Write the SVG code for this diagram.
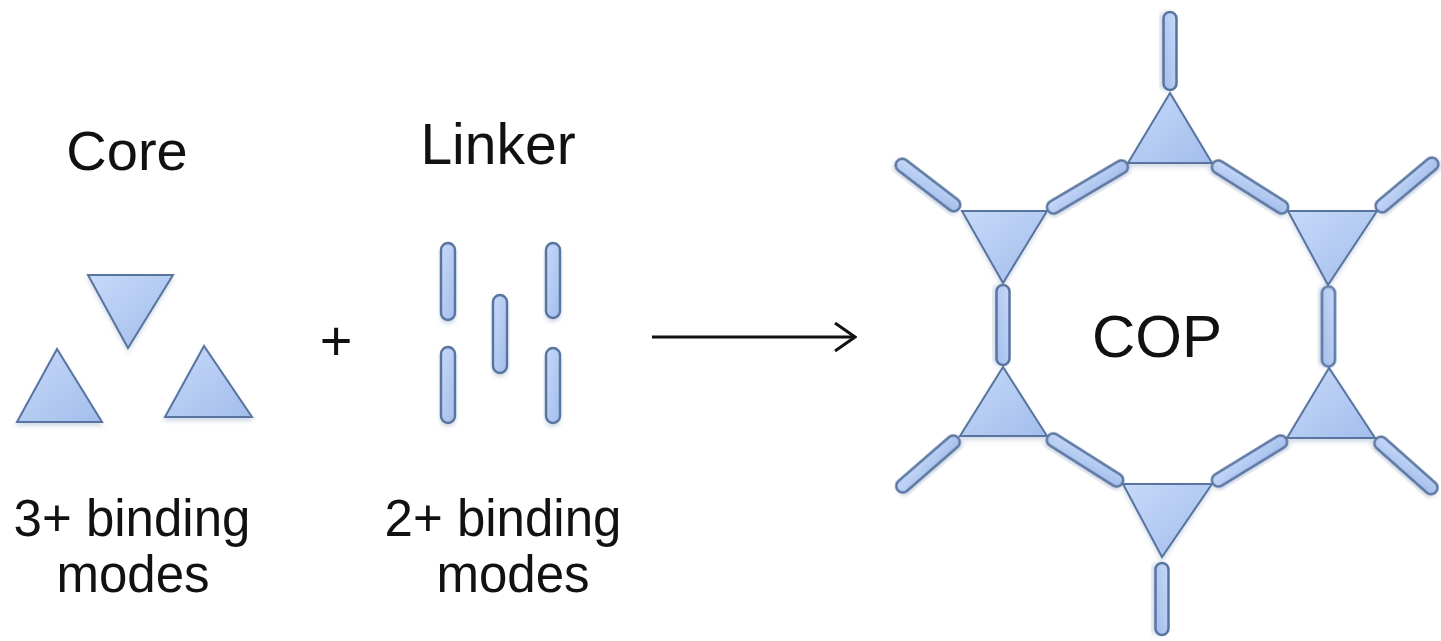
<svg xmlns="http://www.w3.org/2000/svg" width="1441" height="641" viewBox="0 0 1441 641">
<defs>
<linearGradient id="fillG" x1="0" y1="0" x2="1" y2="1">
<stop offset="0" stop-color="#c6d9f8"/>
<stop offset="1" stop-color="#a3bdec"/>
</linearGradient>
<filter id="sh" x="-20%" y="-20%" width="140%" height="150%">
<feDropShadow dx="0" dy="3" stdDeviation="2" flood-color="#7f95b8" flood-opacity="0.35"/>
</filter>
<marker id="arr" markerWidth="24" markerHeight="30" refX="22" refY="15" orient="auto" markerUnits="userSpaceOnUse">
<polyline points="2,1 22,15 2,29" fill="none" stroke="#111" stroke-width="3"/>
</marker>
</defs>
<style>
.tri{fill:url(#fillG);stroke:#58749f;stroke-width:2;stroke-linejoin:miter;filter:url(#sh)}
.lnk{fill:url(#fillG);stroke:#58749f;stroke-width:2.4;filter:url(#sh)}
.t{font-family:"Liberation Sans",Arial,Helvetica,sans-serif;fill:#111;text-anchor:middle}
</style>
<rect width="1441" height="641" fill="#ffffff"/>

<g id="core">
<text class="t" x="127" y="170" font-size="56">Core</text>
<polygon class="tri" points="88,275 173,275 128,348"/>
<polygon class="tri" points="57,349 17,422 102,422"/>
<polygon class="tri" points="204,346 165,417 252,417"/>
<text class="t" x="132" y="536" font-size="51">3+ binding</text>
<text class="t" x="133" y="592" font-size="51">modes</text>
</g>

<g id="plus">
<text class="t" x="336" y="360" font-size="56">+</text>
</g>

<g id="linker">
<text class="t" x="498" y="164" font-size="57">Linker</text>
<rect class="lnk" x="441" y="243" width="14" height="77" rx="7"/>
<rect class="lnk" x="441" y="347" width="14" height="76" rx="7"/>
<rect class="lnk" x="493" y="295" width="14" height="78" rx="7"/>
<rect class="lnk" x="546" y="243" width="14" height="75" rx="7"/>
<rect class="lnk" x="546" y="348" width="14" height="75" rx="7"/>
<text class="t" x="503" y="536" font-size="51">2+ binding</text>
<text class="t" x="513" y="592" font-size="51">modes</text>
</g>

<g id="connectors">
<line x1="652" y1="337" x2="855" y2="337" stroke="#111" stroke-width="3" marker-end="url(#arr)"/>
</g>

<g id="cop">
<g id="cop-linkers">
<rect class="lnk" x="-39" y="-6.5" width="78" height="13" rx="6.5" transform="translate(1170,51) rotate(90)"/>
<rect class="lnk" x="-46" y="-6.5" width="92" height="13" rx="6.5" transform="translate(1087.5,187) rotate(-30.6)"/>
<rect class="lnk" x="-44" y="-6.5" width="88" height="13" rx="6.5" transform="translate(1250,187) rotate(32.3)"/>
<rect class="lnk" x="-40" y="-6.5" width="80" height="13" rx="6.5" transform="translate(1003,325) rotate(90)"/>
<rect class="lnk" x="-40" y="-6.5" width="80" height="13" rx="6.5" transform="translate(1328.5,326.5) rotate(90)"/>
<rect class="lnk" x="-44" y="-6.5" width="88" height="13" rx="6.5" transform="translate(1085,460) rotate(32.3)"/>
<rect class="lnk" x="-43" y="-6.5" width="86" height="13" rx="6.5" transform="translate(1249.5,461) rotate(-31.5)"/>
<rect class="lnk" x="-39" y="-6.5" width="78" height="13" rx="6.5" transform="translate(928,185) rotate(37.5)"/>
<rect class="lnk" x="-39" y="-6.5" width="78" height="13" rx="6.5" transform="translate(1407,185) rotate(-40)"/>
<rect class="lnk" x="-40" y="-6.5" width="80" height="13" rx="6.5" transform="translate(928,464) rotate(-41)"/>
<rect class="lnk" x="-40" y="-6.5" width="80" height="13" rx="6.5" transform="translate(1406,465.5) rotate(41.6)"/>
<rect class="lnk" x="-36" y="-6.5" width="72" height="13" rx="6.5" transform="translate(1162,599) rotate(90)"/>
</g>
<g id="cop-cores">
<polygon class="tri" points="1170,93 1128,163 1212,163"/>
<polygon class="tri" points="962,211 1047,211 1003,283"/>
<polygon class="tri" points="1288,211 1377,211 1328,285"/>
<polygon class="tri" points="1003,367 960,436 1047,436"/>
<polygon class="tri" points="1329,368 1287,438 1375,438"/>
<polygon class="tri" points="1123,484 1212,484 1162,557"/>
</g>
<text class="t" x="1157" y="357" font-size="60">COP</text>
</g>
</svg>
